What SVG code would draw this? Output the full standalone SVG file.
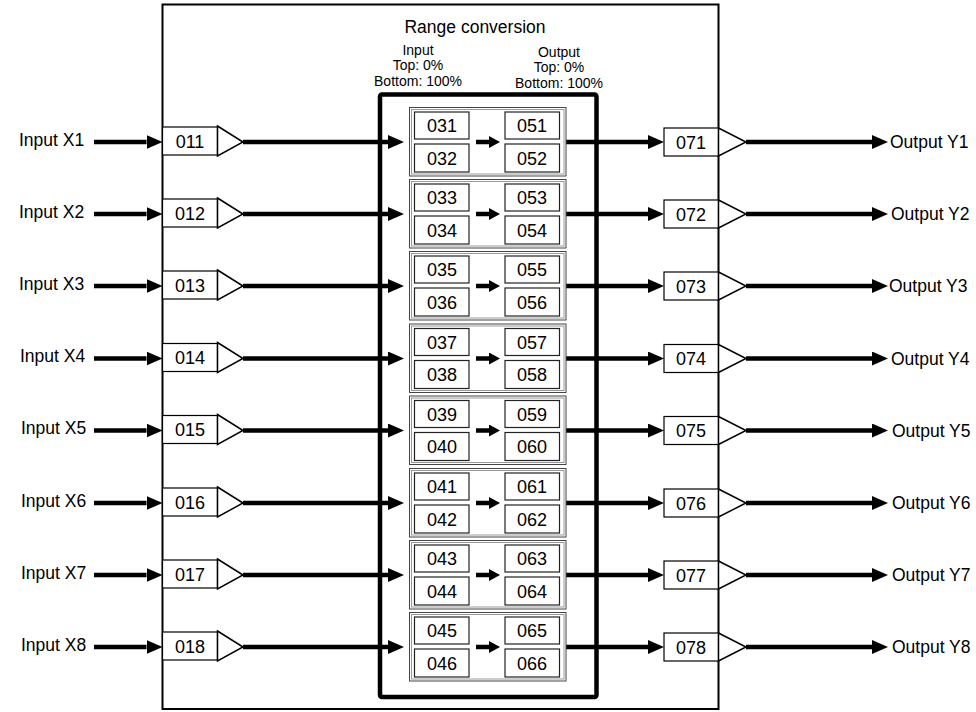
<svg xmlns="http://www.w3.org/2000/svg" width="976" height="712" viewBox="0 0 976 712">
<style>
.frame{fill:#fff;stroke:#000;stroke-width:2}
.thickbox{fill:none;stroke:#000;stroke-width:4.5}
.ln{fill:none;stroke:#000;stroke-width:4.5}
.box{fill:#fff;stroke:#000;stroke-width:1.2}
.tri{fill:#fff;stroke:#000;stroke-width:1.5;stroke-linejoin:miter}
.cell{fill:#fff;stroke:#222;stroke-width:1.2}
.g1{fill:none;stroke:#444;stroke-width:1}
.g2{fill:none;stroke:#9a9a9a;stroke-width:1}
text{font-family:"Liberation Sans",Arial,Helvetica,sans-serif;fill:#000}
.num{font-size:18px;text-anchor:middle}
.lbl{font-size:17.5px}
.hd{font-size:14px;text-anchor:middle}
.title{font-size:17.5px;text-anchor:middle}
</style>
<defs>
<marker id="ah" markerUnits="userSpaceOnUse" markerWidth="16" markerHeight="14" refX="0" refY="7" orient="auto"><path d="M0,0 L16,7 L0,14 z" fill="#000"/></marker>
<marker id="ahs" markerUnits="userSpaceOnUse" markerWidth="11" markerHeight="12" refX="0" refY="6" orient="auto"><path d="M0,0 L11,6 L0,12 z" fill="#000"/></marker>
</defs>
<rect width="976" height="712" fill="#fff"/>
<g id="frame">
<rect class="frame" x="162.5" y="4.5" width="556" height="704.5"/>
<rect class="thickbox" x="380" y="94.5" width="216.5" height="602.5" rx="2"/>
<text class="title" x="475" y="33">Range conversion</text>
<text class="hd" x="418" y="54.5">Input</text>
<text class="hd" x="418" y="70">Top: 0%</text>
<text class="hd" x="418" y="85.5">Bottom: 100%</text>
<text class="hd" x="559" y="56.5">Output</text>
<text class="hd" x="559" y="72">Top: 0%</text>
<text class="hd" x="559" y="87.5">Bottom: 100%</text>
</g>
<g id="connectors">
<path class="ln" d="M94,142 H146.5" marker-end="url(#ah)"/>
<path class="ln" d="M243,142 H388" marker-end="url(#ah)"/>
<path class="ln" d="M476,142 H489" marker-end="url(#ahs)"/>
<path class="ln" d="M566,142 H648" marker-end="url(#ah)"/>
<path class="ln" d="M746,142 H872" marker-end="url(#ah)"/>
<path class="ln" d="M94,214 H146.5" marker-end="url(#ah)"/>
<path class="ln" d="M243,214 H388" marker-end="url(#ah)"/>
<path class="ln" d="M476,214 H489" marker-end="url(#ahs)"/>
<path class="ln" d="M566,214 H648" marker-end="url(#ah)"/>
<path class="ln" d="M746,214 H872" marker-end="url(#ah)"/>
<path class="ln" d="M94,286 H146.5" marker-end="url(#ah)"/>
<path class="ln" d="M243,286 H388" marker-end="url(#ah)"/>
<path class="ln" d="M476,286 H489" marker-end="url(#ahs)"/>
<path class="ln" d="M566,286 H648" marker-end="url(#ah)"/>
<path class="ln" d="M746,286 H872" marker-end="url(#ah)"/>
<path class="ln" d="M94,358.5 H146.5" marker-end="url(#ah)"/>
<path class="ln" d="M243,358.5 H388" marker-end="url(#ah)"/>
<path class="ln" d="M476,358.5 H489" marker-end="url(#ahs)"/>
<path class="ln" d="M566,358.5 H648" marker-end="url(#ah)"/>
<path class="ln" d="M746,358.5 H872" marker-end="url(#ah)"/>
<path class="ln" d="M94,430.5 H146.5" marker-end="url(#ah)"/>
<path class="ln" d="M243,430.5 H388" marker-end="url(#ah)"/>
<path class="ln" d="M476,430.5 H489" marker-end="url(#ahs)"/>
<path class="ln" d="M566,430.5 H648" marker-end="url(#ah)"/>
<path class="ln" d="M746,430.5 H872" marker-end="url(#ah)"/>
<path class="ln" d="M94,503 H146.5" marker-end="url(#ah)"/>
<path class="ln" d="M243,503 H388" marker-end="url(#ah)"/>
<path class="ln" d="M476,503 H489" marker-end="url(#ahs)"/>
<path class="ln" d="M566,503 H648" marker-end="url(#ah)"/>
<path class="ln" d="M746,503 H872" marker-end="url(#ah)"/>
<path class="ln" d="M94,575 H146.5" marker-end="url(#ah)"/>
<path class="ln" d="M243,575 H388" marker-end="url(#ah)"/>
<path class="ln" d="M476,575 H489" marker-end="url(#ahs)"/>
<path class="ln" d="M566,575 H648" marker-end="url(#ah)"/>
<path class="ln" d="M746,575 H872" marker-end="url(#ah)"/>
<path class="ln" d="M94,647 H146.5" marker-end="url(#ah)"/>
<path class="ln" d="M243,647 H388" marker-end="url(#ah)"/>
<path class="ln" d="M476,647 H489" marker-end="url(#ahs)"/>
<path class="ln" d="M566,647 H648" marker-end="url(#ah)"/>
<path class="ln" d="M746,647 H872" marker-end="url(#ah)"/>
</g>
<g id="labels">
<text class="lbl" x="19" y="145.5">Input X1</text>
<text class="lbl" x="19" y="217.5">Input X2</text>
<text class="lbl" x="19" y="289.5">Input X3</text>
<text class="lbl" x="20" y="362">Input X4</text>
<text class="lbl" x="21" y="434">Input X5</text>
<text class="lbl" x="21" y="506.5">Input X6</text>
<text class="lbl" x="21" y="578.5">Input X7</text>
<text class="lbl" x="21" y="650.5">Input X8</text>
<text class="lbl" x="890" y="148">Output Y1</text>
<text class="lbl" x="891" y="220">Output Y2</text>
<text class="lbl" x="889" y="292">Output Y3</text>
<text class="lbl" x="891" y="364.5">Output Y4</text>
<text class="lbl" x="892" y="436.5">Output Y5</text>
<text class="lbl" x="892" y="509">Output Y6</text>
<text class="lbl" x="892" y="581">Output Y7</text>
<text class="lbl" x="892" y="653">Output Y8</text>
</g>
<g id="row1" transform="translate(0,142)">
<g id="n011"><rect class="box" x="162.5" y="-15" width="55" height="28"/><polygon class="tri" points="217.5,-16 243,0 217.5,14"/><text class="num" x="190" y="5.5">011</text></g>
<g id="rc1"><rect class="g1" x="409.5" y="-34.5" width="156.5" height="68.5"/><rect class="g2" x="411.5" y="-32.5" width="152.5" height="64.5"/></g>
<g id="n031"><rect class="cell" x="414.5" y="-30" width="54.5" height="27"/><text class="num" x="442" y="-10">031</text></g>
<g id="n032"><rect class="cell" x="414.5" y="2" width="54.5" height="28"/><text class="num" x="442" y="22.5">032</text></g>
<g id="n051"><rect class="cell" x="505" y="-30" width="54.5" height="27"/><text class="num" x="532" y="-10">051</text></g>
<g id="n052"><rect class="cell" x="505" y="2" width="54.5" height="28"/><text class="num" x="532" y="22.5">052</text></g>
<g id="n071"><rect class="box" x="664" y="-14" width="54.5" height="28"/><polygon class="tri" points="718.5,-14 746,0 718.5,14"/><text class="num" x="691" y="6.5">071</text></g>
</g>
<g id="row2" transform="translate(0,214)">
<g id="n012"><rect class="box" x="162.5" y="-15" width="55" height="28"/><polygon class="tri" points="217.5,-16 243,0 217.5,14"/><text class="num" x="190" y="5.5">012</text></g>
<g id="rc2"><rect class="g1" x="409.5" y="-34.5" width="156.5" height="68.5"/><rect class="g2" x="411.5" y="-32.5" width="152.5" height="64.5"/></g>
<g id="n033"><rect class="cell" x="414.5" y="-30" width="54.5" height="27"/><text class="num" x="442" y="-10">033</text></g>
<g id="n034"><rect class="cell" x="414.5" y="2" width="54.5" height="28"/><text class="num" x="442" y="22.5">034</text></g>
<g id="n053"><rect class="cell" x="505" y="-30" width="54.5" height="27"/><text class="num" x="532" y="-10">053</text></g>
<g id="n054"><rect class="cell" x="505" y="2" width="54.5" height="28"/><text class="num" x="532" y="22.5">054</text></g>
<g id="n072"><rect class="box" x="664" y="-14" width="54.5" height="28"/><polygon class="tri" points="718.5,-14 746,0 718.5,14"/><text class="num" x="691" y="6.5">072</text></g>
</g>
<g id="row3" transform="translate(0,286)">
<g id="n013"><rect class="box" x="162.5" y="-15" width="55" height="28"/><polygon class="tri" points="217.5,-16 243,0 217.5,14"/><text class="num" x="190" y="5.5">013</text></g>
<g id="rc3"><rect class="g1" x="409.5" y="-34.5" width="156.5" height="68.5"/><rect class="g2" x="411.5" y="-32.5" width="152.5" height="64.5"/></g>
<g id="n035"><rect class="cell" x="414.5" y="-30" width="54.5" height="27"/><text class="num" x="442" y="-10">035</text></g>
<g id="n036"><rect class="cell" x="414.5" y="2" width="54.5" height="28"/><text class="num" x="442" y="22.5">036</text></g>
<g id="n055"><rect class="cell" x="505" y="-30" width="54.5" height="27"/><text class="num" x="532" y="-10">055</text></g>
<g id="n056"><rect class="cell" x="505" y="2" width="54.5" height="28"/><text class="num" x="532" y="22.5">056</text></g>
<g id="n073"><rect class="box" x="664" y="-14" width="54.5" height="28"/><polygon class="tri" points="718.5,-14 746,0 718.5,14"/><text class="num" x="691" y="6.5">073</text></g>
</g>
<g id="row4" transform="translate(0,358.5)">
<g id="n014"><rect class="box" x="162.5" y="-15" width="55" height="28"/><polygon class="tri" points="217.5,-16 243,0 217.5,14"/><text class="num" x="190" y="5.5">014</text></g>
<g id="rc4"><rect class="g1" x="409.5" y="-34.5" width="156.5" height="68.5"/><rect class="g2" x="411.5" y="-32.5" width="152.5" height="64.5"/></g>
<g id="n037"><rect class="cell" x="414.5" y="-30" width="54.5" height="27"/><text class="num" x="442" y="-10">037</text></g>
<g id="n038"><rect class="cell" x="414.5" y="2" width="54.5" height="28"/><text class="num" x="442" y="22.5">038</text></g>
<g id="n057"><rect class="cell" x="505" y="-30" width="54.5" height="27"/><text class="num" x="532" y="-10">057</text></g>
<g id="n058"><rect class="cell" x="505" y="2" width="54.5" height="28"/><text class="num" x="532" y="22.5">058</text></g>
<g id="n074"><rect class="box" x="664" y="-14" width="54.5" height="28"/><polygon class="tri" points="718.5,-14 746,0 718.5,14"/><text class="num" x="691" y="6.5">074</text></g>
</g>
<g id="row5" transform="translate(0,430.5)">
<g id="n015"><rect class="box" x="162.5" y="-15" width="55" height="28"/><polygon class="tri" points="217.5,-16 243,0 217.5,14"/><text class="num" x="190" y="5.5">015</text></g>
<g id="rc5"><rect class="g1" x="409.5" y="-34.5" width="156.5" height="68.5"/><rect class="g2" x="411.5" y="-32.5" width="152.5" height="64.5"/></g>
<g id="n039"><rect class="cell" x="414.5" y="-30" width="54.5" height="27"/><text class="num" x="442" y="-10">039</text></g>
<g id="n040"><rect class="cell" x="414.5" y="2" width="54.5" height="28"/><text class="num" x="442" y="22.5">040</text></g>
<g id="n059"><rect class="cell" x="505" y="-30" width="54.5" height="27"/><text class="num" x="532" y="-10">059</text></g>
<g id="n060"><rect class="cell" x="505" y="2" width="54.5" height="28"/><text class="num" x="532" y="22.5">060</text></g>
<g id="n075"><rect class="box" x="664" y="-14" width="54.5" height="28"/><polygon class="tri" points="718.5,-14 746,0 718.5,14"/><text class="num" x="691" y="6.5">075</text></g>
</g>
<g id="row6" transform="translate(0,503)">
<g id="n016"><rect class="box" x="162.5" y="-15" width="55" height="28"/><polygon class="tri" points="217.5,-16 243,0 217.5,14"/><text class="num" x="190" y="5.5">016</text></g>
<g id="rc6"><rect class="g1" x="409.5" y="-34.5" width="156.5" height="68.5"/><rect class="g2" x="411.5" y="-32.5" width="152.5" height="64.5"/></g>
<g id="n041"><rect class="cell" x="414.5" y="-30" width="54.5" height="27"/><text class="num" x="442" y="-10">041</text></g>
<g id="n042"><rect class="cell" x="414.5" y="2" width="54.5" height="28"/><text class="num" x="442" y="22.5">042</text></g>
<g id="n061"><rect class="cell" x="505" y="-30" width="54.5" height="27"/><text class="num" x="532" y="-10">061</text></g>
<g id="n062"><rect class="cell" x="505" y="2" width="54.5" height="28"/><text class="num" x="532" y="22.5">062</text></g>
<g id="n076"><rect class="box" x="664" y="-14" width="54.5" height="28"/><polygon class="tri" points="718.5,-14 746,0 718.5,14"/><text class="num" x="691" y="6.5">076</text></g>
</g>
<g id="row7" transform="translate(0,575)">
<g id="n017"><rect class="box" x="162.5" y="-15" width="55" height="28"/><polygon class="tri" points="217.5,-16 243,0 217.5,14"/><text class="num" x="190" y="5.5">017</text></g>
<g id="rc7"><rect class="g1" x="409.5" y="-34.5" width="156.5" height="68.5"/><rect class="g2" x="411.5" y="-32.5" width="152.5" height="64.5"/></g>
<g id="n043"><rect class="cell" x="414.5" y="-30" width="54.5" height="27"/><text class="num" x="442" y="-10">043</text></g>
<g id="n044"><rect class="cell" x="414.5" y="2" width="54.5" height="28"/><text class="num" x="442" y="22.5">044</text></g>
<g id="n063"><rect class="cell" x="505" y="-30" width="54.5" height="27"/><text class="num" x="532" y="-10">063</text></g>
<g id="n064"><rect class="cell" x="505" y="2" width="54.5" height="28"/><text class="num" x="532" y="22.5">064</text></g>
<g id="n077"><rect class="box" x="664" y="-14" width="54.5" height="28"/><polygon class="tri" points="718.5,-14 746,0 718.5,14"/><text class="num" x="691" y="6.5">077</text></g>
</g>
<g id="row8" transform="translate(0,647)">
<g id="n018"><rect class="box" x="162.5" y="-15" width="55" height="28"/><polygon class="tri" points="217.5,-16 243,0 217.5,14"/><text class="num" x="190" y="5.5">018</text></g>
<g id="rc8"><rect class="g1" x="409.5" y="-34.5" width="156.5" height="68.5"/><rect class="g2" x="411.5" y="-32.5" width="152.5" height="64.5"/></g>
<g id="n045"><rect class="cell" x="414.5" y="-30" width="54.5" height="27"/><text class="num" x="442" y="-10">045</text></g>
<g id="n046"><rect class="cell" x="414.5" y="2" width="54.5" height="28"/><text class="num" x="442" y="22.5">046</text></g>
<g id="n065"><rect class="cell" x="505" y="-30" width="54.5" height="27"/><text class="num" x="532" y="-10">065</text></g>
<g id="n066"><rect class="cell" x="505" y="2" width="54.5" height="28"/><text class="num" x="532" y="22.5">066</text></g>
<g id="n078"><rect class="box" x="664" y="-14" width="54.5" height="28"/><polygon class="tri" points="718.5,-14 746,0 718.5,14"/><text class="num" x="691" y="6.5">078</text></g>
</g>
</svg>
